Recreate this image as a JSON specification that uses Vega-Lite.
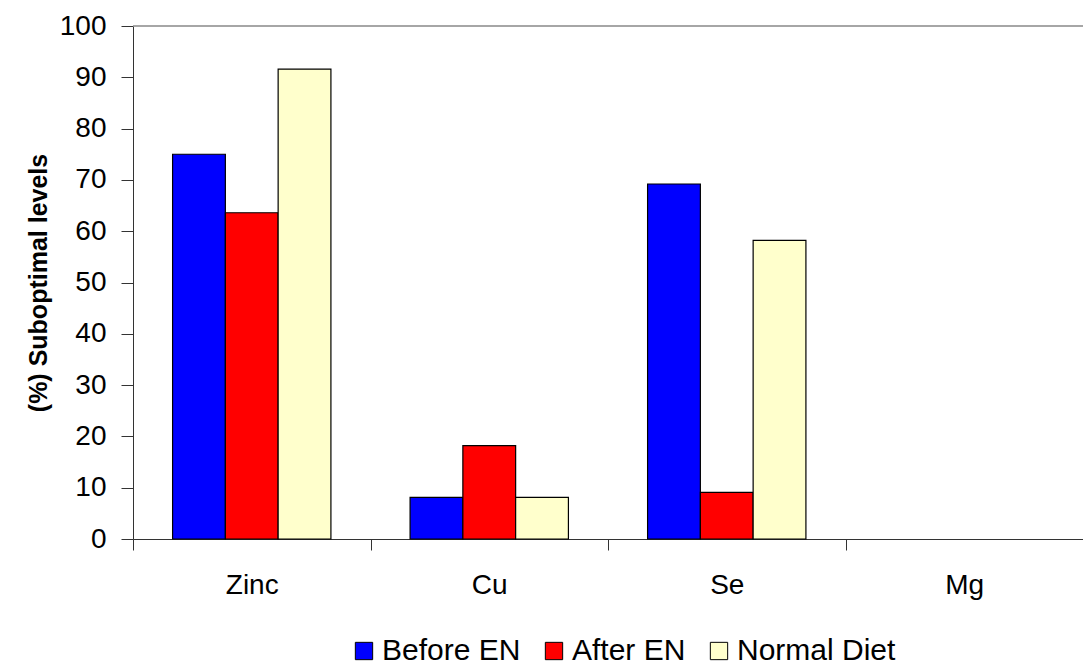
{
  "$schema": "https://vega.github.io/schema/vega-lite/v6.json",
  "width": 950,
  "height": 513,
  "autosize": {"type": "none"},
  "padding": {"left": 133, "top": 26, "right": 0, "bottom": 129},
  "background": "white",
  "config": {
    "view": {"stroke": null},
    "font": "Liberation Sans",
    "axis": {"labelFont": "Liberation Sans", "titleFont": "Liberation Sans"}
  },
  "data": {
    "values": [
      {"element": "Zinc", "group": "Before EN", "value": 75.0},
      {"element": "Zinc", "group": "After EN", "value": 63.6},
      {"element": "Zinc", "group": "Normal Diet", "value": 91.6},
      {"element": "Cu", "group": "Before EN", "value": 8.1},
      {"element": "Cu", "group": "After EN", "value": 18.2},
      {"element": "Cu", "group": "Normal Diet", "value": 8.1},
      {"element": "Se", "group": "Before EN", "value": 69.2},
      {"element": "Se", "group": "After EN", "value": 9.1},
      {"element": "Se", "group": "Normal Diet", "value": 58.2},
      {"element": "Mg", "group": "Before EN", "value": 0},
      {"element": "Mg", "group": "After EN", "value": 0},
      {"element": "Mg", "group": "Normal Diet", "value": 0}
    ]
  },
  "layer": [
    {
      "mark": {"type": "bar", "stroke": "black", "strokeWidth": 1.2},
      "encoding": {
        "x": {
          "field": "element", "type": "nominal",
          "sort": ["Zinc", "Cu", "Se", "Mg"],
          "scale": {"paddingInner": 0, "paddingOuter": 0},
          "axis": {
            "title": null, "labelAngle": 0, "labelFontSize": 28, "labelColor": "black",
            "tickBand": "extent", "tickSize": 11, "tickColor": "#333", "domainColor": "#333",
            "labelPadding": 21, "grid": false
          }
        },
        "xOffset": {
          "field": "group", "type": "nominal",
          "sort": ["Before EN", "After EN", "Normal Diet"],
          "scale": {"paddingInner": 0, "paddingOuter": 0.75}
        },
        "y": {
          "field": "value", "type": "quantitative",
          "scale": {"domain": [0, 100], "nice": false},
          "axis": {
            "title": "(%) Suboptimal levels", "titleFontSize": 25, "titleFontWeight": "bold",
            "titlePadding": 8, "titleColor": "black",
            "values": [0, 10, 20, 30, 40, 50, 60, 70, 80, 90, 100],
            "labelFontSize": 28, "labelColor": "black", "labelPadding": 15,
            "tickSize": 12, "tickColor": "#333", "domainColor": "#333", "grid": false
          }
        },
        "strokeOpacity": {
          "condition": {"test": "datum.value <= 0", "value": 0},
          "value": 1
        },
        "color": {
          "field": "group", "type": "nominal",
          "sort": ["Before EN", "After EN", "Normal Diet"],
          "scale": {"domain": ["Before EN", "After EN", "Normal Diet"], "range": ["#0000FF", "#FF0000", "#FFFFCC"]},
          "legend": {
            "title": null, "orient": "none", "direction": "horizontal",
            "legendX": 216, "legendY": 610,
            "symbolType": "square", "symbolSize": 300, "symbolStrokeColor": "black", "symbolStrokeWidth": 1,
            "symbolOpacity": 1,
            "labelFontSize": 30, "labelColor": "black", "labelOffset": 3, "columnPadding": 18
          }
        }
      }
    },
    {
      "data": {"values": [{"top": 100}]},
      "mark": {"type": "rule", "color": "#888", "strokeWidth": 1.5},
      "encoding": {"y": {"field": "top", "type": "quantitative"}}
    }
  ]
}
